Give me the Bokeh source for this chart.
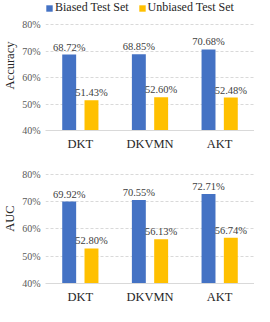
from bokeh.plotting import figure
from bokeh.layouts import column
from bokeh.models import (ColumnDataSource, FactorRange, Range1d, Legend, LegendItem,
                          NumeralTickFormatter, FixedTicker)
from bokeh.transform import dodge
from bokeh.core.properties import value
from bokeh.embed import file_html
from bokeh.resources import INLINE

models = ["DKT", "DKVMN", "AKT"]
series = ["Biased Test Set", "Unbiased Test Set"]
acc_biased = [0.6872, 0.6885, 0.7068]
acc_unbiased = [0.5143, 0.5260, 0.5248]
auc_biased = [0.6992, 0.7055, 0.7271]
auc_unbiased = [0.5280, 0.5613, 0.5674]
y_ticks = [0.4, 0.5, 0.6, 0.7, 0.8]

BLUE = "#4472C4"
YELLOW = "#FFC000"
FONT = "Liberation Serif"


def make(ylabel, biased, unbiased, height, y_end, frame_h, show_legend):
    src = ColumnDataSource(dict(
        model=models, b=biased, u=unbiased,
        bl=[f"{v*100:.2f}%" for v in biased],
        ul=[f"{v*100:.2f}%" for v in unbiased],
    ))
    p = figure(x_range=FactorRange(*models), y_range=Range1d(0.4, y_end),
               width=254, height=height, output_backend="svg", toolbar_location=None,
               min_border_left=38, min_border_right=0, min_border_top=0,
               min_border_bottom=height - frame_h)
    p.outline_line_color = None
    p.background_fill_color = "white"
    p.border_fill_color = "white"

    rb = p.vbar(x=dodge("model", -0.16, range=p.x_range), top="b", bottom=0.4,
                width=0.2, source=src, fill_color=BLUE, line_color=None)
    ru = p.vbar(x=dodge("model", 0.16, range=p.x_range), top="u", bottom=0.4,
                width=0.2, source=src, fill_color=YELLOW, line_color=None)

    for off, col, lab in [(-0.16, "b", "bl"), (0.16, "u", "ul")]:
        p.text(x=dodge("model", off, range=p.x_range), y=col, text=lab, source=src,
               text_align="center", text_baseline="bottom", y_offset=-2,
               text_font=value(FONT), text_font_size="10.5px", text_color="#404040")

    p.xgrid.grid_line_color = None
    p.ygrid.grid_line_color = "#d9d9d9"
    p.ygrid.grid_line_dash = "3 2"
    p.yaxis.ticker = FixedTicker(ticks=y_ticks)
    p.yaxis.formatter = NumeralTickFormatter(format="0%")
    p.yaxis.axis_line_color = None
    p.yaxis.major_tick_line_color = None
    p.yaxis.minor_tick_line_color = None
    p.yaxis.major_tick_out = 0
    p.yaxis.major_tick_in = 0
    p.yaxis.minor_tick_out = 0
    p.yaxis.major_label_text_font = FONT
    p.yaxis.major_label_text_font_size = "10px"
    p.yaxis.major_label_text_color = "#595959"
    p.yaxis.major_label_standoff = 5
    p.yaxis.axis_label = ylabel
    p.yaxis.axis_label_text_font = FONT
    p.yaxis.axis_label_text_font_size = "12.5px"
    p.yaxis.axis_label_text_font_style = "normal"
    p.yaxis.axis_label_text_color = "#262626"
    p.yaxis.axis_label_standoff = 2

    p.xaxis.axis_line_color = "#d9d9d9"
    p.xaxis.major_tick_line_color = None
    p.xaxis.minor_tick_line_color = None
    p.xaxis.major_tick_out = 0
    p.xaxis.major_tick_in = 0
    p.xaxis.minor_tick_out = 0
    p.xaxis.major_label_text_font = FONT
    p.xaxis.major_label_text_font_size = "12.5px"
    p.xaxis.major_label_text_color = "#262626"
    p.xaxis.major_label_standoff = 6

    if show_legend:
        leg = Legend(items=[LegendItem(label=series[0], renderers=[rb]),
                            LegendItem(label=series[1], renderers=[ru])],
                     orientation="horizontal", location="top_left",
                     glyph_width=8, glyph_height=8, label_standoff=2, spacing=9,
                     padding=0, margin=0, label_height=12,
                     label_text_font=FONT, label_text_font_size="12px",
                     label_text_color="#262626",
                     border_line_color=None, background_fill_alpha=0)
        p.add_layout(leg, "center")
    return p


p1 = make("Accuracy", acc_biased, acc_unbiased, 153, 0.892, 132, True)
p2 = make("AUC", auc_biased, auc_unbiased, 153, 0.875, 133, False)

layout = column(p1, p2, spacing=0)
open("out.html", "w").write(file_html(layout, INLINE))
